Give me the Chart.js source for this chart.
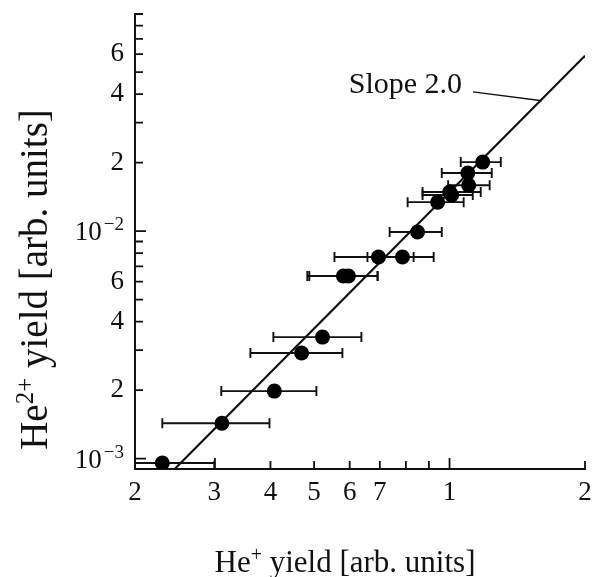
<!DOCTYPE html>
<html>
<head>
<meta charset="utf-8">
<script src="https://cdn.jsdelivr.net/npm/chart.js@4"></script>
<style>
  html, body { margin: 0; padding: 0; background: #fff; }
  canvas { display: block; }
</style>
</head>
<body>
<canvas id="chart" width="594" height="577"></canvas>
<script>
// measured points (He+ yield, He2+ yield) and ends of the horizontal error bars
const heX   = [0.230, 0.312, 0.408, 0.469, 0.522, 0.581, 0.596, 0.695, 0.786, 0.849, 0.941, 1.001, 1.011, 1.103, 1.098, 1.185];
const heY   = [0.000956, 0.00143, 0.00198, 0.00291, 0.00342, 0.00635, 0.00635, 0.00769, 0.00769, 0.00991, 0.0134, 0.01485, 0.0144, 0.0159, 0.0180, 0.0201];
const errLo = [0.158, 0.230, 0.311, 0.361, 0.406, 0.483, 0.488, 0.555, 0.657, 0.736, 0.807, 0.871, 0.871, 0.993, 0.961, 1.059];
const errHi = [0.301, 0.398, 0.506, 0.578, 0.637, 0.692, 0.692, 0.832, 0.922, 0.961, 1.075, 1.173, 1.126, 1.228, 1.241, 1.300];

// slope 2.0 guide line
const fitX = [0.245, 2];
const fitY = [0.0009, 0.059];

// ticks
const xTicks = [0.2, 0.3, 0.4, 0.5, 0.6, 0.7, 0.8, 0.9, 1, 2];
const xTickLabels = ['2', '3', '4', '5', '6', '7', '', '', '1', '2'];
const xMajor = [1];
const yTicks = [0.001, 0.002, 0.003, 0.004, 0.005, 0.006, 0.007, 0.008, 0.009,
                0.01, 0.02, 0.03, 0.04, 0.05, 0.06, 0.07, 0.08, 0.09];
const yTickLabels = ['', '2', '', '4', '', '6', '', '', '',
                     '', '2', '', '4', '', '6', '', '', ''];
const yDecades = [0.001, 0.01];
const yDecadeExp = ['\u22123', '\u22122'];

const serif = "'Liberation Serif', 'Times New Roman', serif";
const ink = '#111';

// superscript-aware text run: parts = [[text, isSup], ...]
function drawRun(ctx, parts, x, y, size, supSize, rise) {
  let cx = x;
  parts.forEach(([t, sup]) => {
    ctx.font = (sup ? supSize : size) + 'px ' + serif;
    ctx.fillText(t, cx, sup ? y - rise : y);
    cx += ctx.measureText(t).width;
  });
}
function runWidth(ctx, parts, size, supSize) {
  let w = 0;
  parts.forEach(([t, sup]) => {
    ctx.font = (sup ? supSize : size) + 'px ' + serif;
    w += ctx.measureText(t).width;
  });
  return w;
}

const decor = {
  id: 'decor',
  beforeDatasetsDraw(chart) {
    const {ctx, chartArea: a, scales: {x, y}} = chart;
    ctx.save();
    ctx.beginPath();
    ctx.rect(a.left, a.top, a.right - a.left, a.bottom - a.top);
    ctx.clip();
    ctx.strokeStyle = ink;
    ctx.lineWidth = 1.9;
    heX.forEach((v, i) => {
      const py = y.getPixelForValue(heY[i]);
      const x0 = x.getPixelForValue(errLo[i]);
      const x1 = x.getPixelForValue(errHi[i]);
      ctx.beginPath();
      ctx.moveTo(x0, py); ctx.lineTo(x1, py);
      ctx.moveTo(x0, py - 5); ctx.lineTo(x0, py + 5);
      ctx.moveTo(x1, py - 5); ctx.lineTo(x1, py + 5);
      ctx.stroke();
    });
    ctx.restore();
  },
  afterDraw(chart) {
    const {ctx, chartArea: a, scales: {x, y}} = chart;
    ctx.save();
    ctx.strokeStyle = ink;
    ctx.fillStyle = ink;
    ctx.lineWidth = 1.8;

    // inward tick marks
    ctx.beginPath();
    xTicks.forEach(v => {
      const px = x.getPixelForValue(v);
      const len = xMajor.includes(v) ? 11 : 8;
      ctx.moveTo(px, a.bottom); ctx.lineTo(px, a.bottom - len);
    });
    yTicks.forEach(v => {
      const py = y.getPixelForValue(v);
      const len = yDecades.includes(v) ? 11 : 8;
      ctx.moveTo(a.left, py); ctx.lineTo(a.left + len, py);
    });
    ctx.stroke();

    // 10^-3, 10^-2 labels
    ctx.textBaseline = 'alphabetic';
    ctx.textAlign = 'left';
    yDecades.forEach((v, i) => {
      const py = y.getPixelForValue(v);
      ctx.font = '19px ' + serif;
      const ws = ctx.measureText(yDecadeExp[i]).width;
      ctx.font = '27px ' + serif;
      const wb = ctx.measureText('10').width;
      const right = a.left - 11;
      ctx.fillText('10', right - ws - 2 - wb, py + 9);
      ctx.font = '19px ' + serif;
      ctx.fillText(yDecadeExp[i], right - ws, py - 1);
    });

    // x title
    const xt = [['He', false], ['+', true], [' yield [arb. units]', false]];
    const xw = runWidth(ctx, xt, 31, 20);
    drawRun(ctx, xt, (a.left + a.right) / 2 - 15 - xw / 2, a.bottom + 103, 31, 20, 11);

    // y title
    const yt = [['He', false], ['2+', true], [' yield [arb. units]', false]];
    const yw = runWidth(ctx, yt, 39, 25);
    ctx.save();
    ctx.translate(47, (a.top + a.bottom) / 2 + 38);
    ctx.rotate(-Math.PI / 2);
    drawRun(ctx, yt, -yw / 2, 0, 39, 25, 14);
    ctx.restore();

    // slope annotation
    ctx.font = '30px ' + serif;
    ctx.textAlign = 'right';
    ctx.fillText('Slope 2.0', x.getPixelForValue(1.066), y.getPixelForValue(0.0405));
    ctx.lineWidth = 1.4;
    ctx.beginPath();
    ctx.moveTo(x.getPixelForValue(1.127), y.getPixelForValue(0.0409));
    ctx.lineTo(x.getPixelForValue(1.605), y.getPixelForValue(0.0374));
    ctx.stroke();
    ctx.restore();
  }
};

new Chart(document.getElementById('chart'), {
  type: 'scatter',
  data: {
    datasets: [{
      data: heX.map((v, i) => ({x: v, y: heY[i]})),
      pointRadius: 7.5,
      pointHoverRadius: 7.5,
      backgroundColor: '#000',
      borderWidth: 0
    }, {
      data: fitX.map((v, i) => ({x: v, y: fitY[i]})),
      showLine: true,
      borderColor: ink,
      borderWidth: 2.2,
      pointRadius: 0
    }]
  },
  options: {
    responsive: false,
    animation: false,
    layout: { padding: { top: 14, right: 9, bottom: 0, left: 0 } },
    plugins: { legend: { display: false }, tooltip: { enabled: false } },
    scales: {
      x: {
        type: 'logarithmic',
        min: 0.2,
        max: 2,
        grid: { display: false, drawTicks: false },
        border: { display: true, color: ink, width: 2 },
        afterBuildTicks: s => { s.ticks = xTicks.map(v => ({value: v})); },
        afterFit: s => { s.height = 108; s.paddingLeft = 0; s.paddingRight = 0; },
        ticks: {
          autoSkip: false,
          maxRotation: 0,
          padding: 8,
          color: ink,
          font: { family: serif, size: 27 },
          callback: (v, i) => xTickLabels[i]
        }
      },
      y: {
        type: 'logarithmic',
        min: 0.0009,
        max: 0.09,
        grid: { display: false, drawTicks: false },
        border: { display: true, color: ink, width: 2 },
        afterBuildTicks: s => { s.ticks = yTicks.map(v => ({value: v})); },
        afterFit: s => { s.width = 135; s.paddingTop = 0; s.paddingBottom = 0; },
        ticks: {
          autoSkip: false,
          padding: 11,
          color: ink,
          font: { family: serif, size: 27 },
          callback: (v, i) => yTickLabels[i]
        }
      }
    }
  },
  plugins: [decor]
});
</script>
</body>
</html>
